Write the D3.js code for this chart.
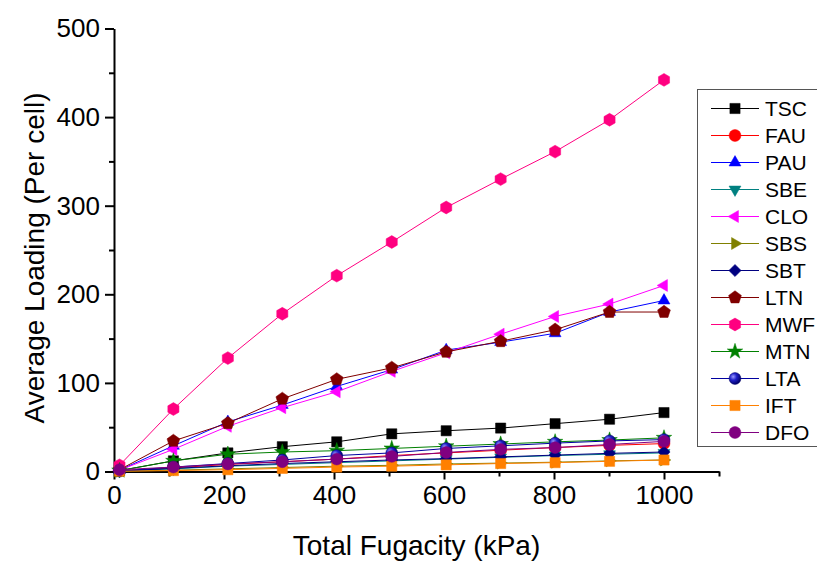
<!DOCTYPE html>
<html>
<head>
<meta charset="utf-8">
<script src="https://cdn.jsdelivr.net/npm/d3@7"></script>
<style>
  html, body { margin: 0; padding: 0; background: #fff; }
  svg { display: block; font-family: "Liberation Sans", Arial, sans-serif; }
</style>
</head>
<body>
<svg id="chart" width="817" height="561"></svg>
<script>
// Total fugacity (kPa) at which each loading was computed
const fugacity = [10, 108, 207, 306, 405, 505, 604, 703, 802, 901, 1000];

// Average loading (molecules per cell) for each framework
const TSC = [1, 12, 21, 28, 33.5, 42.5, 46, 49, 54, 59, 66.5];
const FAU = [1, 4, 8, 11, 14, 18, 21, 24, 27, 29.5, 31.5];
const PAU = [1.5, 29, 56, 75, 96, 115, 137, 146, 156, 180, 193];
const SBE = [0.5, 3, 6, 8, 10, 12, 14, 16, 18, 19.5, 21];
const CLO = [1.5, 25, 51, 72, 90, 113, 134, 155, 175, 189, 210];
const SBS = [0.3, 1.5, 3, 4.5, 6, 7, 8.5, 9.5, 10.5, 12, 13];
const SBT = [0.5, 3.5, 6.5, 9, 11, 13, 14.5, 16.5, 18.5, 20.5, 22];
const LTN = [2, 34.5, 54.5, 82, 104, 117, 135, 147, 160, 180, 180];
const MWF = [7, 70.5, 128, 178, 221, 259, 298, 330, 361, 397, 442];
const MTN = [1, 12, 19.5, 22, 23.5, 26, 28.5, 31, 33.5, 35.5, 38];
const LTA = [0.5, 5, 9, 13, 18, 21, 26, 29, 32, 34.5, 36];
const IFT = [0.3, 1, 2, 3.5, 5, 6, 7.5, 9, 10, 11.5, 13];
const DFO = [2, 5, 8.5, 11, 14, 17, 21.5, 25, 27, 30.5, 34];

const seriesNames = ["TSC", "FAU", "PAU", "SBE", "CLO", "SBS", "SBT", "LTN", "MWF", "MTN", "LTA", "IFT", "DFO"];
const seriesValues = [TSC, FAU, PAU, SBE, CLO, SBS, SBT, LTN, MWF, MTN, LTA, IFT, DFO];

// Axis ticks
const xMajorTicks = [0, 200, 400, 600, 800, 1000];
const xMinorTicks = [100, 300, 500, 700, 900, 1100];
const yMajorTicks = [0, 100, 200, 300, 400, 500];
const yMinorTicks = [50, 150, 250, 350, 450];

const xTitle = "Total Fugacity (kPa)";
const yTitle = "Average Loading (Per cell)";

// ---- styling for each series: colour and marker shape ----
const styles = {
  TSC: { color: "#000000", shape: "square" },
  FAU: { color: "#FF0000", shape: "circle" },
  PAU: { color: "#0000FF", shape: "triUp" },
  SBE: { color: "#008080", shape: "triDown" },
  CLO: { color: "#FF00FF", shape: "triLeft" },
  SBS: { color: "#808000", shape: "triRight" },
  SBT: { color: "#000080", shape: "diamond" },
  LTN: { color: "#800000", shape: "pentagon" },
  MWF: { color: "#FF0080", shape: "hexagon" },
  MTN: { color: "#008000", shape: "star" },
  LTA: { color: "#0000A0", shape: "ball" },
  IFT: { color: "#FF8000", shape: "square" },
  DFO: { color: "#800080", shape: "circle" }
};

const svg = d3.select("#chart");

const margin = { left: 114, right: 719, top: 28.5, bottom: 471.5 };
const x = d3.scaleLinear().domain([0, 1100]).range([margin.left, margin.right]);
const y = d3.scaleLinear().domain([0, 500]).range([margin.bottom, margin.top]);

// Radial gradient for the shaded ball marker
const defs = svg.append("defs");
const grad = defs.append("radialGradient").attr("id", "ballGrad")
  .attr("cx", "0.35").attr("cy", "0.35").attr("r", "0.65");
grad.append("stop").attr("offset", "0%").attr("stop-color", "#9a9aff");
grad.append("stop").attr("offset", "45%").attr("stop-color", "#2020c8");
grad.append("stop").attr("offset", "100%").attr("stop-color", "#00006a");

// Polygon helper for custom marker shapes
function polygonType(points) {
  return {
    draw(ctx, size) {
      const r = Math.sqrt(size) / 2;
      points.forEach(([px, py], i) => {
        if (i === 0) ctx.moveTo(px * r, py * r); else ctx.lineTo(px * r, py * r);
      });
      ctx.closePath();
    }
  };
}
function regular(n, startAngle) {
  const pts = [];
  for (let i = 0; i < n; i++) {
    const a = startAngle + i * 2 * Math.PI / n;
    pts.push([Math.cos(a), Math.sin(a)]);
  }
  return pts;
}
const tri = (a) => polygonType(regular(3, a));
const shapes = {
  square:   { type: polygonType([[-0.85, -0.85], [0.85, -0.85], [0.85, 0.85], [-0.85, 0.85]]), size: 144 },
  circle:   { type: d3.symbolCircle, size: 110 },
  ball:     { type: d3.symbolCircle, size: 110 },
  triUp:    { type: tri(-Math.PI / 2), size: 190 },
  triDown:  { type: tri(Math.PI / 2), size: 190 },
  triLeft:  { type: tri(Math.PI), size: 190 },
  triRight: { type: tri(0), size: 190 },
  diamond:  { type: polygonType([[0, -1], [1, 0], [0, 1], [-1, 0]]), size: 150 },
  pentagon: { type: polygonType(regular(5, -Math.PI / 2)), size: 180 },
  hexagon:  { type: polygonType(regular(6, -Math.PI / 2)), size: 165 },
  star:     { type: d3.symbolStar, size: 75 }
};

function markerPath(shape) {
  const s = shapes[shape];
  return d3.symbol().type(s.type).size(s.size)();
}
function markerFill(name) {
  const st = styles[name];
  return st.shape === "ball" ? "url(#ballGrad)" : st.color;
}

// ---- axes ----
const tickFont = "26px";
const titleFont = "28px";

const gx = svg.append("g").attr("transform", `translate(0,${margin.bottom})`);
gx.call(d3.axisBottom(x).tickValues(xMajorTicks).tickSize(8).tickSizeOuter(0).tickPadding(6).tickFormat(d3.format("d")));
const gxMinor = svg.append("g").attr("transform", `translate(0,${margin.bottom})`);
gxMinor.call(d3.axisBottom(x).tickValues(xMinorTicks).tickSize(5).tickSizeOuter(0).tickFormat(""));
gxMinor.select(".domain").remove();

const gy = svg.append("g").attr("transform", `translate(${margin.left},0)`);
gy.call(d3.axisLeft(y).tickValues(yMajorTicks).tickSize(9).tickSizeOuter(0).tickPadding(5).tickFormat(d3.format("d")));
const gyMinor = svg.append("g").attr("transform", `translate(${margin.left},0)`);
gyMinor.call(d3.axisLeft(y).tickValues(yMinorTicks).tickSize(5).tickSizeOuter(0).tickFormat(""));
gyMinor.select(".domain").remove();

svg.selectAll(".domain").attr("stroke", "#000").attr("stroke-width", 2);
svg.selectAll(".tick line").attr("stroke", "#000").attr("stroke-width", 2);
svg.selectAll(".tick text").attr("fill", "#000").style("font-size", tickFont)
  .style("font-family", "'Liberation Sans', Arial, sans-serif");

// Axis titles
svg.append("text")
  .attr("x", (x(0) + x(1100)) / 2)
  .attr("y", 555)
  .attr("text-anchor", "middle")
  .style("font-size", titleFont)
  .text(xTitle);

svg.append("text")
  .attr("transform", `translate(44,258) rotate(-90)`)
  .attr("text-anchor", "middle")
  .style("font-size", titleFont)
  .text(yTitle);

// ---- series lines and markers ----
const line = d3.line().x((d, i) => x(fugacity[i])).y(d => y(d));

seriesNames.forEach((name, k) => {
  const vals = seriesValues[k];
  const st = styles[name];
  const g = svg.append("g").attr("class", "series " + name);
  g.append("path")
    .datum(vals)
    .attr("d", line)
    .attr("fill", "none")
    .attr("stroke", st.color)
    .attr("stroke-width", 1);
  g.selectAll("path.mark")
    .data(vals)
    .join("path")
    .attr("class", "mark")
    .attr("d", markerPath(st.shape))
    .attr("transform", (d, i) => `translate(${x(fugacity[i])},${y(d)})`)
    .attr("fill", markerFill(name))
    .attr("stroke", st.shape === "ball" ? "#00006a" : st.color)
    .attr("stroke-width", 0.5);
});

// ---- legend ----
const legend = svg.append("g");
legend.append("rect")
  .attr("x", 697.5).attr("y", 89.5)
  .attr("width", 140).attr("height", 357)
  .attr("fill", "#fff")
  .attr("stroke", "#555")
  .attr("stroke-width", 1);

const rowStart = 108.5, rowStep = 27;
seriesNames.forEach((name, k) => {
  const st = styles[name];
  const cy = rowStart + k * rowStep;
  const row = legend.append("g");
  row.append("line")
    .attr("x1", 711).attr("x2", 759)
    .attr("y1", cy).attr("y2", cy)
    .attr("stroke", st.color).attr("stroke-width", 1);
  row.append("path")
    .attr("d", markerPath(st.shape))
    .attr("transform", `translate(735,${cy})`)
    .attr("fill", markerFill(name))
    .attr("stroke", st.shape === "ball" ? "#00006a" : st.color)
    .attr("stroke-width", 0.5);
  row.append("text")
    .attr("x", 765).attr("y", cy)
    .attr("dy", "0.36em")
    .style("font-size", "21px")
    .text(name);
});
</script>
</body>
</html>
